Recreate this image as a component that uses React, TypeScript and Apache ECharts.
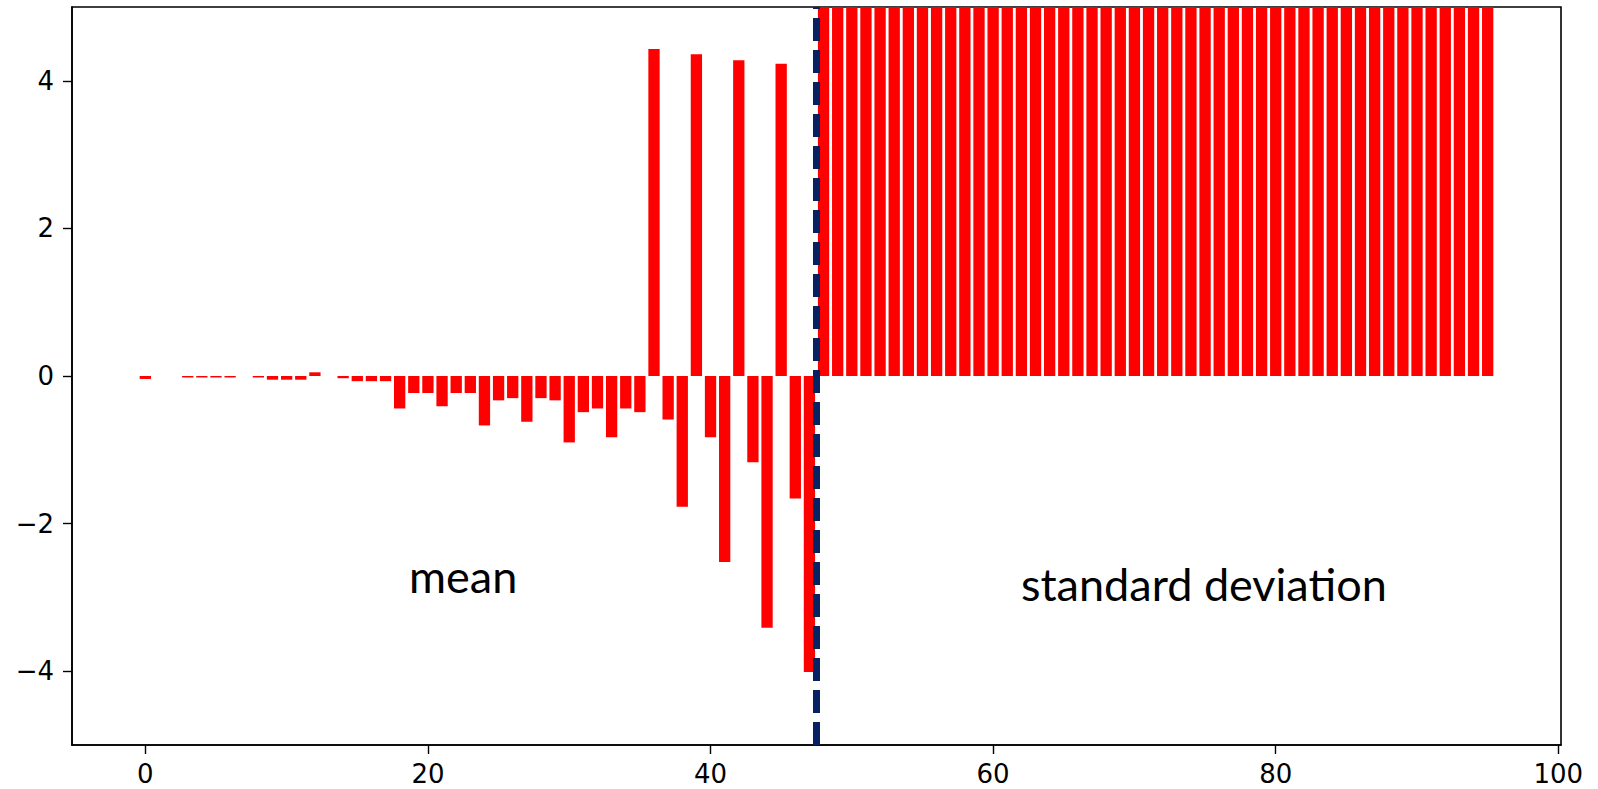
import React, { useEffect, useRef } from "react";
import * as echarts from "echarts";

// values of the first 48 bars (the "mean" part)
const meanValues: number[] = [
  -0.04, 0, 0, -0.02, -0.02, -0.02, -0.02, 0, -0.02, -0.05, -0.05, -0.05,
  0.05, 0, -0.03, -0.07, -0.07, -0.07, -0.44, -0.23, -0.23, -0.41, -0.23, -0.23,
  -0.67, -0.33, -0.3, -0.62, -0.3, -0.33, -0.9, -0.49, -0.44, -0.83, -0.44, -0.49,
  4.43, -0.59, -1.77, 4.36, -0.83, -2.52, 4.28, -1.17, -3.41, 4.23, -1.66, -4.01,
];

// values of the last 48 bars (the "standard deviation" part) – all exceed the visible range
const stdValues: number[] = [
  9, 9, 9, 9, 9, 9, 9, 9, 9, 9, 9, 9,
  9, 9, 9, 9, 9, 9, 9, 9, 9, 9, 9, 9,
  9, 9, 9, 9, 9, 9, 9, 9, 9, 9, 9, 9,
  9, 9, 9, 9, 9, 9, 9, 9, 9, 9, 9, 9,
];

const xTicks: number[] = [0, 20, 40, 60, 80, 100];
const yTicks: number[] = [-4, -2, 0, 2, 4];
const splitPosition = 47.5;
const labelMean = "mean";
const labelStd = "standard deviation";

export default function App() {
  const ref = useRef<HTMLDivElement>(null);

  useEffect(() => {
    if (!ref.current) return;
    const chart = echarts.init(ref.current, null, { renderer: "svg" });
    const allValues = meanValues.concat(stdValues);
    const barData = allValues.map((v, i) => [i, v]);

    const axisFont = {
      fontFamily: "DejaVu Sans",
      fontSize: 26,
      color: "#000",
    };

    chart.setOption({
      animation: false,
      backgroundColor: "#fff",
      grid: {
        left: 72,
        right: 37,
        top: 7,
        bottom: 44,
        show: true,
        borderColor: "#000",
        borderWidth: 1.6,
        backgroundColor: "transparent",
      },
      xAxis: {
        type: "value",
        min: -5.19,
        max: 100.19,
        splitLine: { show: false },
        axisLine: { show: true, onZero: false, lineStyle: { color: "#000", width: 1.6 } },
        axisTick: {
          show: true,
          inside: false,
          length: 9,
          customValues: xTicks,
          lineStyle: { color: "#000", width: 1.4 },
        },
        axisLabel: {
          ...axisFont,
          margin: 16,
          customValues: xTicks,
          formatter: (v: number) => String(v),
        },
      },
      yAxis: {
        type: "value",
        min: -5,
        max: 5,
        splitLine: { show: false },
        axisLine: { show: true, onZero: false, lineStyle: { color: "#000", width: 1.6 } },
        axisTick: {
          show: true,
          inside: false,
          length: 9,
          customValues: yTicks,
          lineStyle: { color: "#000", width: 1.4 },
        },
        axisLabel: {
          ...axisFont,
          margin: 18,
          customValues: yTicks,
          formatter: (v: number) => (v < 0 ? "\u2212" + Math.abs(v) : String(v)),
        },
      },
      series: [
        {
          type: "bar",
          data: barData,
          barWidth: "80%",
          clip: true,
          itemStyle: { color: "#ff0000" },
          z: 2,
        },
        {
          type: "line",
          data: [],
          z: 5,
          markLine: {
            silent: true,
            symbol: "none",
            label: { show: false },
            animation: false,
            lineStyle: {
              color: "#062262",
              width: 7,
              type: [23, 9],
            },
            data: [{ xAxis: splitPosition }],
          },
        },
      ],
      graphic: [
        {
          type: "text",
          left: 409,
          top: 553,
          z: 10,
          style: {
            text: labelMean,
            fontFamily: "Lato",
            fontSize: 45,
            fill: "#000",
          },
        },
        {
          type: "text",
          left: 1021,
          top: 561,
          z: 10,
          style: {
            text: labelStd,
            fontFamily: "Lato",
            fontSize: 45,
            fill: "#000",
          },
        },
      ],
    });

    return () => {
      chart.dispose();
    };
  }, []);

  return (
    <div
      ref={ref}
      style={{ position: "fixed", left: 0, top: 0, width: 1598, height: 789 }}
    />
  );
}
